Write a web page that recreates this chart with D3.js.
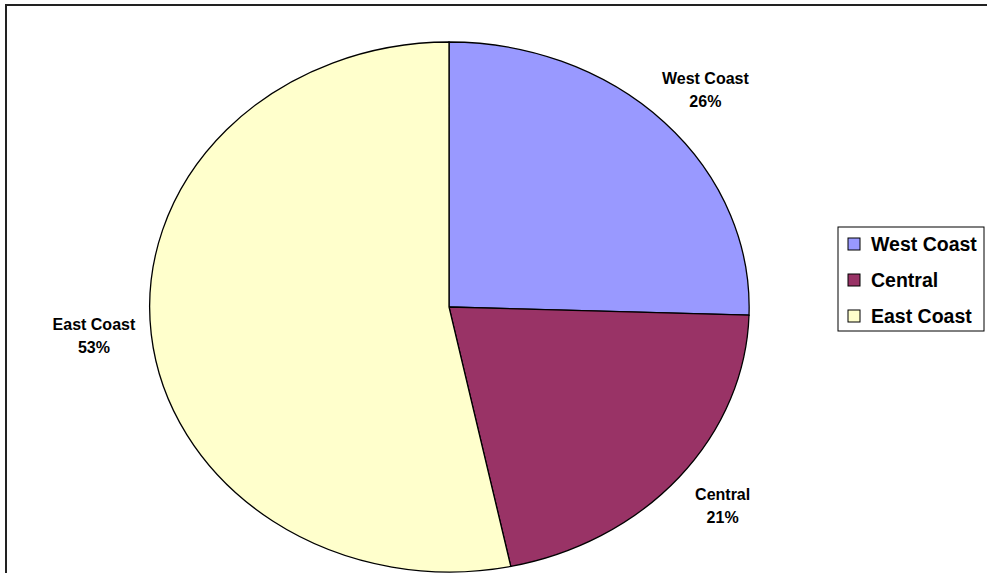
<!DOCTYPE html>
<html>
<head>
<meta charset="utf-8">
<script src="https://cdn.jsdelivr.net/npm/d3@7"></script>
<style>
  body { margin: 0; background: #fff; }
  svg { display: block; }
  text { font-family: "Liberation Sans", Arial, sans-serif; }
</style>
</head>
<body>
<div id="chart"></div>
<script>
// regions and their shares (percent)
const regions = ["West Coast", "Central", "East Coast"];
const shares = [25.5, 21.2, 53.3];
const labels = ["26%", "21%", "53%"];
const colors = ["#9999FF", "#993366", "#FFFFCC"];

const width = 987, height = 573;
const cx = 449, cy = 307, rx = 300, ry = 265;

const svg = d3.select("#chart")
    .append("svg")
    .attr("width", width)
    .attr("height", height);

// chart border (runs off the right and bottom edges)
svg.append("rect")
    .attr("x", 6)
    .attr("y", 5)
    .attr("width", width + 20)
    .attr("height", height + 20)
    .attr("fill", "none")
    .attr("stroke", "#222")
    .attr("stroke-width", 2);

const data = regions.map((r, i) => ({ region: r, value: shares[i], label: labels[i], color: colors[i] }));

const pie = d3.pie()
    .sort(null)
    .value(d => d.value);

const arcs = pie(data);

// unit arc, stretched into an ellipse
const arc = d3.arc().innerRadius(0).outerRadius(1);

const pieG = svg.append("g")
    .attr("transform", `translate(${cx},${cy}) scale(${rx},${ry})`);

pieG.selectAll("path")
    .data(arcs)
    .join("path")
    .attr("d", arc)
    .attr("fill", d => d.data.color)
    .attr("stroke", "#000")
    .attr("stroke-width", 1.3)
    .attr("vector-effect", "non-scaling-stroke");

// data labels outside each slice
const labelR = 1.19;
const lbl = svg.append("g").selectAll("text")
    .data(arcs)
    .join("text")
    .attr("text-anchor", "middle")
    .attr("font-size", 16)
    .attr("font-weight", "bold")
    .attr("fill", "#000")
    .attr("transform", d => {
      const a = (d.startAngle + d.endAngle) / 2;
      const x = cx + rx * labelR * Math.sin(a);
      const y = cy - ry * labelR * Math.cos(a) - (Math.cos(a) < 0.5 ? 6 : 0);
      return `translate(${x},${y})`;
    });

lbl.append("tspan").attr("x", 0).attr("y", -4).text(d => d.data.region);
lbl.append("tspan").attr("x", 0).attr("y", 19).text(d => d.data.label);

// legend
const legend = svg.append("g");
legend.append("rect")
    .attr("x", 838)
    .attr("y", 227)
    .attr("width", 146)
    .attr("height", 104)
    .attr("fill", "#fff")
    .attr("stroke", "#000")
    .attr("stroke-width", 1);

const item = legend.selectAll("g.item")
    .data(data)
    .join("g")
    .attr("class", "item")
    .attr("transform", (d, i) => `translate(848, ${244 + i * 36})`);

item.append("rect")
    .attr("x", 0)
    .attr("y", -6)
    .attr("width", 12)
    .attr("height", 12)
    .attr("fill", d => d.color)
    .attr("stroke", "#000")
    .attr("stroke-width", 1);

item.append("text")
    .attr("x", 23)
    .attr("y", 7)
    .attr("font-size", 19.5)
    .attr("font-weight", "bold")
    .attr("fill", "#000")
    .text(d => d.region);
</script>
</body>
</html>
